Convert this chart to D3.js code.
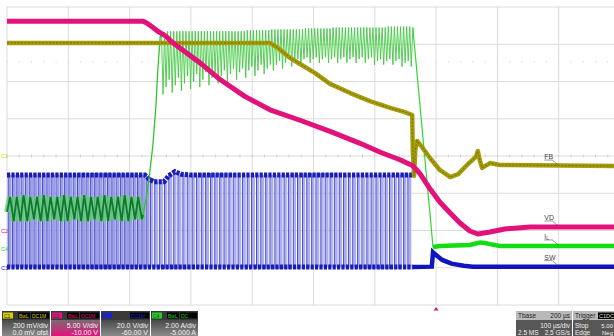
<!DOCTYPE html>
<html><head><meta charset="utf-8">
<script src="https://cdn.jsdelivr.net/npm/d3@7"></script>
<style>body{margin:0;background:#fff}svg{display:block;font-family:"Liberation Sans",Arial,sans-serif}</style>
</head><body><svg id="c" width="614" height="336"></svg>
<script>
// ---------- data (time in µs, 100 µs/div) ----------
const timeTicks = [0,100,200,300,400,500,600,700,800,900,1000];
const divTicks = [-4,-3,-2,-1,0,1,2,3,4];
const triggerTime = 700;
const trigLevel = 505; // mV on C1

// C2 VD (V)
const vdData = [[0,28.1],[222,28.1],[228,27.85],[237,27.3],[245,26.8],[251,26.5],[259,26.1],[269,25.3],[282,24.5],[315,22.5],[347,20.3],[388,18.0],[429,16.2],[478,14.8],[527,13.3],[576,11.7],[609,10.5],[641,9.5],[662,8.7],[674,7.6],[690,5.6],[706,3.83],[723,2.35],[739,1.0],[755,-0.07],[768,-0.47],[788,-0.2],[812,0.2],[853,0.47],[1000,0.47]];

// C1 FB (mV)
const fbData = [[0,607],[429,607],[442,580],[462,526],[478,494],[502,446],[527,387],[560,338],[592,295],[625,258],[649,236],[661,220],[662,32],[664,-107],[666,32],[669,81],[677,48],[690,-11],[706,-75],[723,-113],[736,-97],[752,-43],[765,-5],[768,27],[772,-32],[775,-64],[788,-38],[804,-48],[1000,-54]];

// C4 IL (A): low ripple section, rise, and end section
const ilLowData = [[0,2.0],[5,2.8],[11,1.5],[16,2.8],[22,1.5],[27,2.9],[33,1.5],[38,2.8],[44,1.6],[49,2.8],[55,1.5],[60,2.9],[66,1.5],[71,2.8],[77,1.6],[82,2.8],[88,1.5],[93,2.9],[99,1.5],[104,2.8],[110,1.6],[115,2.8],[121,1.5],[126,2.9],[132,1.5],[137,2.8],[143,1.6],[148,2.8],[154,1.5],[159,2.9],[165,1.5],[170,2.8],[176,1.6],[181,2.8],[187,1.5],[192,2.9],[198,1.5],[203,2.8],[209,1.6],[214,2.8],[220,1.6],[222,1.83]];
const ilRise = [[222,1.83],[228,2.9],[233,4.14],[238,5.59],[243,7.74],[246,9.62],[250,11.44]];
// switching teeth: [peak time, peak A, valley A]
const ilTeeth = [[252,11.6,8.3],[257,11.65,8.7],[262,11.7,9.1],[267,11.7,8.4],[272,11.7,8.8],[277,11.7,9.2],[282,11.7,8.5],[287,11.7,8.9],[292,11.7,9.3],[297,11.7,8.6],[302,11.7,9.0],[307,11.7,9.4],[312,11.7,8.7],[317,11.7,9.1],[322,11.7,9.5],[327,11.7,8.8],[332,11.7,9.2],[337,11.7,9.5],[342,11.7,8.9],[347,11.7,9.3],[352,11.7,9.6],[357,11.7,9.0],[362,11.7,9.4],[367,11.7,9.7],[372,11.7,9.1],[377,11.7,9.5],[382,11.7,9.7],[387,11.7,9.2],[392,11.75,9.6],[397,11.75,9.8],[402,11.75,9.3],[407,11.75,9.6],[412,11.75,9.9],[417,11.75,9.4],[422,11.75,9.7],[427,11.75,9.9],[432,11.8,9.6],[437,11.8,9.9],[442,11.8,10.1],[447,11.8,9.7],[452,11.8,10.0],[457,11.8,10.2],[462,11.8,9.8],[467,11.8,10.1],[472,11.8,10.2],[477,11.8,9.9],[482,11.8,10.2],[487,11.85,10.3],[492,11.85,10.0],[497,11.85,10.2],[502,11.85,10.3],[507,11.85,10.0],[512,11.85,10.2],[517,11.85,10.3],[522,11.85,10.0],[527,11.85,10.2],[532,11.9,10.3],[537,11.9,10.0],[542,11.9,10.2],[547,11.9,10.3],[552,11.9,10.0],[557,11.9,10.2],[562,11.9,10.3],[567,11.9,10.0],[572,11.9,10.2],[577,11.9,10.3],[582,11.9,10.0],[587,11.9,10.2],[592,11.9,10.3],[597,11.9,9.9],[602,11.9,10.1],[607,11.9,10.2],[612,11.9,9.9],[617,11.9,10.1],[622,11.95,10.2],[627,11.95,9.9],[632,11.95,10.1],[637,11.95,10.2],[642,11.95,9.8],[647,11.95,10.0],[652,11.95,10.1],[657,11.95,9.8]];
const ilEndData = [[662,11.9],[695,0.11],[706,0.17],[755,0.22],[765,0.3],[772,0.36],[780,0.33],[788,0.27],[804,0.17],[1000,0.17]];

// C3 SW (V): pulse edge times, high level, low level
const swPulses = [2,9,16,23,30,37,44,51,58,65,72,80,87,94,101,108,115,122,129,136,143,150,157,164,171,178,185,192,199,206,213,220,227,234,241,249,257,264,272,279,287,294,302,309,317,324,332,339,347,354,362,369,377,384,392,399,407,414,422,429,437,444,452,459,467,474,482,489,497,504,512,519,527,534,542,549,557,564,572,579,587,594,602,609,617,624,632,639,647,654];
const swEnd = 662;
const swHigh = [[0,49.8],[225,49.8],[232,47.5],[240,46.2],[256,46.2],[264,49.5],[274,51.6],[284,50.2],[300,49.8],[662,49.8]];
const swLow = [[0,0.4],[662,0.4],[693,0.6],[695,8.3],[700,6.8],[710,4.2],[725,2.2],[745,1.1],[760,0.6],[1000,0.6]];

// channel setup
const chNames = ["C1","C2","C3","C4"];
const chColors = ["#d6cf00","#e0147a","#1a22d0","#1ed41e"];
const chTags = [["BwL","DC1M"],["BwL","DC1M"],["",""],["BwL","DC"]];
const chScale = ["200 mV/div","5.00 V/div","20.0 V/div","2.00 A/div"];
const chOffset = ["0.0 mV ofst","-10.00 V","-60.00 V","-5.000 A"];
const traceLabels = [["FB",-54],["VD",0.47],["IL",0.17],["SW",0.6]];

// ---------- scales ----------
const svg = d3.select("#c");
const x = d3.scaleLinear().domain([0,1000]).range([7,620]);
const yDiv = d3.scaleLinear().domain([-4,4]).range([305,7]);
const yC1 = d3.scaleLinear().domain([-800,800]).range([305,7]);
const yC2 = d3.scaleLinear().domain([-10,30]).range([305,7]);
const yC3 = d3.scaleLinear().domain([-20,140]).range([305,7]);
const yC4 = d3.scaleLinear().domain([-3,13]).range([305,7]);

svg.append("rect").attr("width",614).attr("height",336).attr("fill","#fff");

// ---------- grid ----------
const grid = svg.append("g");
grid.selectAll("line.v").data(timeTicks).join("line")
  .attr("x1",d=>x(d)).attr("x2",d=>x(d)).attr("y1",yDiv(4)).attr("y2",yDiv(-4))
  .attr("stroke","#dcdcdc").attr("stroke-width",1);
grid.selectAll("line.h").data(divTicks).join("line")
  .attr("y1",d=>yDiv(d)).attr("y2",d=>yDiv(d)).attr("x1",x(0)).attr("x2",x(1000))
  .attr("stroke","#dcdcdc").attr("stroke-width",1);
const minor = d3.range(0,1001,20);
grid.selectAll("line.m").data(minor).join("line")
  .attr("x1",d=>x(d)).attr("x2",d=>x(d)).attr("y1",yDiv(0)-1.5).attr("y2",yDiv(0)+1.5)
  .attr("stroke","#cfcfcf");
grid.selectAll("rect.tl").data(minor).join("rect")
  .attr("x",d=>x(d)-0.5).attr("y",yC1(trigLevel)-0.5).attr("width",1).attr("height",1)
  .attr("fill","#d0d0d0");

const interp = (arr,t)=>{
  for(let i=1;i<arr.length;i++){ if(t<=arr[i][0]){const a=arr[i-1],b=arr[i];return a[1]+(b[1]-a[1])*(t-a[0])/(b[0]-a[0]);} }
  return arr[arr.length-1][1];
};
const line = (ys)=>d3.line().x(d=>x(d[0])).y(d=>ys(d[1]));

// ---------- C3 SW ----------
const gB = svg.append("g");
swPulses.forEach((t,i)=>{
  const t2 = i<swPulses.length-1 ? swPulses[i+1] : swEnd;
  const hi = yC3(interp(swHigh,t)), lo = yC3(0.4);
  const left = t<230;
  gB.append("rect").attr("x",x(t)+0.4).attr("y",hi).attr("width",Math.max(0.5,x(t2)-x(t)-(left?1.4:1.9)))
    .attr("height",lo-hi).attr("fill",left?"#9d9fe6":"#aeb0ec");
  gB.append("line").attr("x1",x(t)).attr("x2",x(t)).attr("y1",hi-2).attr("y2",lo+2)
    .attr("stroke","#3034c8").attr("stroke-width",0.9);
});
gB.append("path").datum(swHigh).attr("d",line(yC3)).attr("fill","none").attr("stroke","#1a1cb8").attr("stroke-width",5).attr("stroke-dasharray","3.2,1.2");
gB.append("path").datum(swLow.filter(d=>d[0]<=swEnd)).attr("d",line(yC3)).attr("fill","none").attr("stroke","#1a1cb8").attr("stroke-width",5).attr("stroke-dasharray","3.2,1.2");
gB.append("path").datum(swLow.filter(d=>d[0]>=swEnd)).attr("d",line(yC3)).attr("fill","none").attr("stroke","#1014c0").attr("stroke-width",4.5);

// ---------- C4 IL ----------
const gG = svg.append("g");
gG.append("path").datum(ilLowData).attr("d",line(yC4)).attr("fill","none").attr("stroke","#5fd06a").attr("stroke-width",6).attr("stroke-opacity",0.75);
gG.append("path").datum(ilLowData).attr("d",line(yC4)).attr("fill","none").attr("stroke","#0d7a2e").attr("stroke-width",1.8);
gG.append("path").datum(ilRise).attr("d",line(yC4)).attr("fill","none").attr("stroke","#2ec42e").attr("stroke-width",1.3);
const teethPts = [[250,11.44]];
ilTeeth.forEach(d=>{ teethPts.push([d[0],d[1]]); teethPts.push([d[0]+2.5,d[2]]); });
teethPts.push([662,11.9]);
gG.append("path").datum(teethPts).attr("d",line(yC4)).attr("fill","none").attr("stroke","#44c844").attr("stroke-width",0.9);
gG.append("path").datum(ilEndData).attr("d",line(yC4)).attr("fill","none").attr("stroke","#2ed82e").attr("stroke-width",1.2);
gG.append("path").datum(ilEndData.filter(d=>d[0]>=695)).attr("d",line(yC4)).attr("fill","none").attr("stroke","#12dc12").attr("stroke-width",4.5);

// ---------- C1 FB ----------
svg.append("path").datum(fbData).attr("d",line(yC1)).attr("fill","none").attr("stroke","#a69d0c").attr("stroke-width",4.5).attr("stroke-linejoin","round");
svg.append("path").datum(fbData).attr("d",line(yC1)).attr("fill","none").attr("stroke","#7e7700").attr("stroke-width",1.2).attr("stroke-dasharray","2,1.5");

// ---------- C2 VD ----------
svg.append("path").datum(vdData).attr("d",line(yC2)).attr("fill","none").attr("stroke","#e2127a").attr("stroke-width",5).attr("stroke-linejoin","round");

// ---------- trace labels ----------
const scalesFor = [yC1,yC2,yC4,yC3];
const lab = svg.append("g").attr("font-size",7).attr("fill","#444");
traceLabels.forEach((d,i)=>{
  const yy = scalesFor[i](d[1]);
  const lx = x(883);
  const g = lab.append("g");
  const tx = g.append("text").attr("x",lx-4).attr("y",yy-7);
  if(d[0]==="IL"){ tx.text("I"); tx.append("tspan").attr("font-size",5).attr("dy",1.5).text("L"); }
  else tx.text(d[0]);
  g.append("line").attr("x1",lx-4).attr("x2",lx+4).attr("y1",yy-6).attr("y2",yy-6).attr("stroke","#555").attr("stroke-width",0.6);
  g.append("line").attr("x1",lx+4).attr("x2",lx+10).attr("y1",yy-6).attr("y2",yy-1).attr("stroke","#555").attr("stroke-width",0.6);
});

// ---------- channel ground markers ----------
const gnd = [yC1(0),yC2(0),yC3(0),yC4(0)];
const mk = svg.append("g").attr("font-size",5.5);
chNames.forEach((n,i)=>{
  mk.append("text").attr("x",1).attr("y",gnd[i]+2).attr("fill",chColors[i]).text(n);
});

// trigger marker
svg.append("path").attr("d",`M${x(triggerTime)-2.5},${yDiv(-4)+5.5}L${x(triggerTime)},${yDiv(-4)+2}L${x(triggerTime)+2.5},${yDiv(-4)+5.5}Z`).attr("fill","#e0147a");

// ---------- bottom info boxes ----------
const defs = svg.append("defs");
const gradTop = ["#4a4a4a","#7a6a72","#4a4a4a","#4a4a4a"];
const gradBot = ["#8a8a8a","#e0147a","#8a8a8a","#8a8a8a"];
chNames.forEach((n,i)=>{
  const g = defs.append("linearGradient").attr("id","g"+i).attr("x1",0).attr("y1",0).attr("x2",0).attr("y2",1);
  g.append("stop").attr("offset","0%").attr("stop-color",gradTop[i]);
  g.append("stop").attr("offset","100%").attr("stop-color",gradBot[i]);
});
const boxX = [2,51,101,151], boxW=[48,49,49,47];
const bx = svg.append("g");
chNames.forEach((n,i)=>{
  const X=boxX[i], w=boxW[i];
  bx.append("rect").attr("x",X).attr("y",311).attr("width",w).attr("height",9).attr("fill","#3a3a3a");
  bx.append("rect").attr("x",X+1).attr("y",312.5).attr("width",10).attr("height",6).attr("fill",chColors[i]);
  bx.append("text").attr("x",X+2).attr("y",317.6).attr("font-size",5).attr("fill","#333").text(n);
  if(chTags[i][0]){
    bx.append("rect").attr("x",X+16).attr("y",312.5).attr("width",12).attr("height",6).attr("fill","#000");
    bx.append("text").attr("x",X+17).attr("y",317.6).attr("font-size",5).attr("fill",chColors[i]).text(chTags[i][0]);
    bx.append("rect").attr("x",X+29).attr("y",312.5).attr("width",w-30).attr("height",6).attr("fill","#000");
    bx.append("text").attr("x",X+30).attr("y",317.6).attr("font-size",5).attr("fill",chColors[i]).text(chTags[i][1]);
  } else {
    bx.append("rect").attr("x",X+29).attr("y",312.5).attr("width",w-30).attr("height",6).attr("fill","#000");
    bx.append("text").attr("x",X+30).attr("y",317.6).attr("font-size",5).attr("fill",chColors[i]).text("DC1M");
  }
  bx.append("rect").attr("x",X).attr("y",320).attr("width",w).attr("height",16).attr("fill",`url(#g${i})`);
  bx.append("text").attr("x",X+w-2).attr("y",327.5).attr("text-anchor","end").attr("font-size",7).attr("fill","#f2f2f2").text(chScale[i]);
  bx.append("text").attr("x",X+w-2).attr("y",334.8).attr("text-anchor","end").attr("font-size",7).attr("fill","#f2f2f2").text(chOffset[i]);
});
// timebase
const tbX=516;
bx.append("rect").attr("x",tbX).attr("y",311).attr("width",56).attr("height",9).attr("fill","#b9b9b9");
bx.append("text").attr("x",tbX+2).attr("y",318).attr("font-size",6.5).attr("fill","#222").text("Tbase");
bx.append("text").attr("x",tbX+54).attr("y",318).attr("font-size",6.5).attr("text-anchor","end").attr("fill","#222").text("200 µs");
bx.append("rect").attr("x",tbX).attr("y",320).attr("width",56).attr("height",16).attr("fill","#575757");
bx.append("text").attr("x",tbX+54).attr("y",327.5).attr("font-size",6.5).attr("text-anchor","end").attr("fill","#eee").text("100 µs/div");
bx.append("text").attr("x",tbX+2).attr("y",334.8).attr("font-size",6.5).attr("fill","#eee").text("2.5 MS");
bx.append("text").attr("x",tbX+54).attr("y",334.8).attr("font-size",6.5).attr("text-anchor","end").attr("fill","#eee").text("2.5 GS/s");
// trigger
const trX=573;
bx.append("rect").attr("x",trX).attr("y",311).attr("width",45).attr("height",9).attr("fill","#b9b9b9");
bx.append("text").attr("x",trX+2).attr("y",318).attr("font-size",6.5).attr("fill","#222").text("Trigger");
bx.append("rect").attr("x",trX+25).attr("y",312.5).attr("width",20).attr("height",6.5).attr("fill","#000");
bx.append("text").attr("x",trX+26).attr("y",318).attr("font-size",5.5).attr("fill","#ddd").text("C1DC");
bx.append("rect").attr("x",trX).attr("y",320).attr("width",45).attr("height",16).attr("fill","#575757");
bx.append("text").attr("x",trX+2).attr("y",327.5).attr("font-size",6.5).attr("fill","#eee").text("Stop");
bx.append("text").attr("x",613).attr("y",327.5).attr("font-size",6).attr("text-anchor","end").attr("fill","#eee").text("5.00");
bx.append("text").attr("x",trX+2).attr("y",334.8).attr("font-size",6.5).attr("fill","#eee").text("Edge");
bx.append("text").attr("x",613).attr("y",334.8).attr("font-size",6).attr("text-anchor","end").attr("fill","#eee").text("Neg");
</script></body></html>
